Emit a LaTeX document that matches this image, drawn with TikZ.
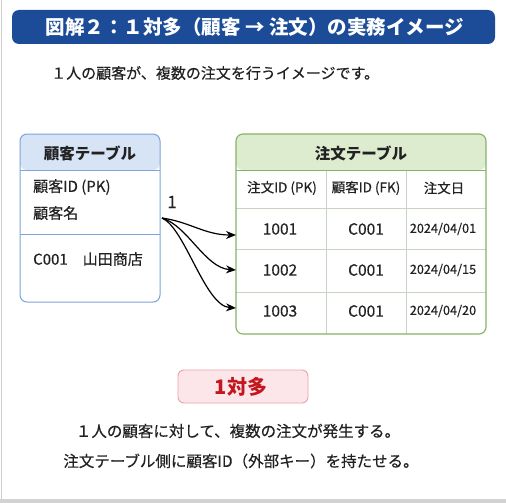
\documentclass[tikz,border=0pt]{standalone}
\usepackage{fontspec}
\setmainfont{Noto Sans CJK JP}
\newfontfamily\medfont{Noto Sans CJK JP}[FakeBold=0.35]
\usetikzlibrary{arrows.meta}
\definecolor{titleblue}{HTML}{1C4C97}
\definecolor{bluehead}{HTML}{D6E4F6}
\definecolor{blueline}{HTML}{7FA3D6}
\definecolor{greenhead}{HTML}{DDEBCF}
\definecolor{greenline}{HTML}{84B366}
\definecolor{gridline}{HTML}{C9D3C2}
\definecolor{pinkfill}{HTML}{FCE6E9}
\definecolor{pinkline}{HTML}{E9A3AC}
\definecolor{redtext}{HTML}{C4161F}
\definecolor{textcol}{HTML}{222222}
\tikzset{
  bodytext/.style={font=\medfont\fontsize{15}{17}\selectfont, text=textcol, inner sep=0pt},
  celltext/.style={font=\medfont\fontsize{15.5}{17}\selectfont, text=textcol, inner sep=0pt},
  colhead/.style={font=\medfont\fontsize{13.5}{15}\selectfont, text=textcol, inner sep=0pt},
  datetext/.style={font=\medfont\fontsize{12.7}{14}\selectfont, text=textcol, inner sep=0pt},
  headtext/.style={font=\fontsize{15.5}{17}\selectfont\bfseries, text=textcol, inner sep=0pt},
  relarrow/.style={-{Stealth[length=10pt,width=8pt]}, line width=1.2pt, black},
}
\begin{document}
\begin{tikzpicture}[x=1pt,y=-1pt]
\useasboundingbox (0,0) rectangle (506,503);
\fill[white] (0,0) rectangle (506,503);
\draw[gray!40, line width=1.2pt] (1.5,0) -- (1.5,503);
\fill[gray!35] (0,499) rectangle (506,503);
% title
\fill[titleblue, rounded corners=7pt] (12,10) rectangle (495,44);
\node[font=\fontsize{19.5}{21}\selectfont\bfseries, text=white, inner sep=0pt] (title) at (255,27.5) {図解２：１対多（顧客 → 注文）の実務イメージ};
\node[bodytext, anchor=west] (sub) at (51,73) {１人の顧客が、複数の注文を行うイメージです。};
% left table
\fill[bluehead, rounded corners=7pt] (20,134) rectangle (160,170);
\draw[blueline, line width=1pt, rounded corners=7pt] (20,134) rectangle (160,302);
\draw[blueline, line width=1pt] (20,170) -- (160,170);
\draw[blueline, line width=1pt] (20,234) -- (160,234);
\node[headtext] (lhead) at (90,153) {顧客テーブル};
\node[bodytext, anchor=west] (lpk) at (33,187) {顧客ID (PK)};
\node[bodytext, anchor=west] (lname) at (33,213) {顧客名};
\node[bodytext, anchor=west] (lrow) at (33,259) {C001\hspace{1.0em}山田商店};
\coordinate (src) at (162,218);
\node[font=\medfont\fontsize{17}{19}\selectfont, text=textcol, inner sep=0pt] (one) at (172,202) {1};
% right table
\fill[greenhead, rounded corners=7pt] (236,134) rectangle (486,170);
\draw[gridline, line width=0.8pt] (236,208) -- (486,208);
\draw[gridline, line width=0.8pt] (236,249) -- (486,249);
\draw[gridline, line width=0.8pt] (236,292) -- (486,292);
\draw[gridline, line width=0.8pt] (326,170) -- (326,334);
\draw[gridline, line width=0.8pt] (406,170) -- (406,334);
\draw[greenline, line width=1pt] (236,170) -- (486,170);
\draw[greenline, line width=1.1pt, rounded corners=7pt] (236,134) rectangle (486,334);
\node[headtext] (rhead) at (361,153) {注文テーブル};
\node[colhead] (c1) at (282,188) {注文ID (PK)};
\node[colhead] (c2) at (366,188) {顧客ID (FK)};
\node[colhead] (c3) at (444,188) {注文日};
\coordinate (r1) at (236,235);
\coordinate (r2) at (236,270);
\coordinate (r3) at (236,308);
\node[celltext] (a1) at (280,229) {1001};
\node[celltext] (b1) at (366,229) {C001};
\node[datetext] (d1) at (443,229) {2024/04/01};
\node[celltext] (a2) at (280,270) {1002};
\node[celltext] (b2) at (366,270) {C001};
\node[datetext] (d2) at (443,270) {2024/04/15};
\node[celltext] (a3) at (280,311) {1003};
\node[celltext] (b3) at (366,311) {C001};
\node[datetext] (d3) at (443,311) {2024/04/20};
% arrows
\draw[relarrow] (src) .. controls (190,222) and (205,235) .. (r1);
\draw[relarrow] (src) .. controls (188,226) and (205,268) .. (r2);
\draw[relarrow] (src) .. controls (185,228) and (205,306) .. (r3);
% 1 to many box
\draw[pinkline, fill=pinkfill, line width=0.9pt, rounded corners=6pt] (178,370) rectangle (308,403);
\node[font=\fontsize{20}{22}\selectfont\bfseries, text=redtext, inner sep=0pt] (rel) at (241,386.5) {1対多};
\node[bodytext, font=\medfont\fontsize{15.5}{17}\selectfont] (l1) at (238,431) {１人の顧客に対して、複数の注文が発生する。};
\node[bodytext, font=\medfont\fontsize{15.5}{17}\selectfont] (l2) at (241,461) {注文テーブル側に顧客ID（外部キー）を持たせる。};
\end{tikzpicture}
\end{document}
